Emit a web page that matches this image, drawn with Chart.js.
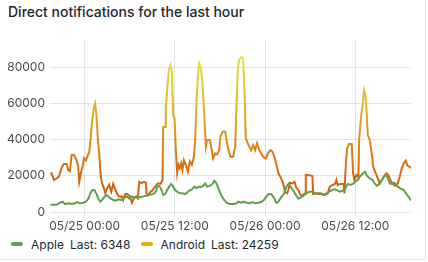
<!DOCTYPE html>
<html>
<head>
<meta charset="utf-8">
<script src="https://cdn.jsdelivr.net/npm/chart.js@4.4.1/dist/chart.umd.min.js"></script>
<style>
  html, body { margin: 0; padding: 0; background: #ffffff; }
  body { width: 428px; height: 262px; position: relative; overflow: hidden; font-family: Inter, "Noto Sans", sans-serif; }
  #panel { position: absolute; left: -1px; top: -1px; width: 427px; height: 261px; border-right: 1px solid rgba(36,41,46,0.12); border-bottom: 1px solid rgba(36,41,46,0.12); box-sizing: border-box; }
  #title { position: absolute; left: 8px; top: 3px; font-size: 14px; font-weight: 500; color: #24292e; white-space: nowrap; }
  #wrap { position: absolute; left: 0; top: 0; width: 428px; height: 235px; }
  #legend { position: absolute; left: 11px; top: 236px; height: 16px; display: flex; align-items: center; font-size: 12px; color: #24292e; white-space: nowrap; }
  .item { display: flex; align-items: center; margin-right: 10px; }
  .sw { width: 12px; height: 4px; border-radius: 2px; margin-right: 8px; }
  .lbl { margin-right: 6px; }
</style>
</head>
<body>
<div id="panel"></div>
<div id="title">Direct notifications for the last hour</div>
<div id="wrap"><canvas id="c"></canvas></div>
<div id="legend"></div>
<script>
// ---- data (hours relative to 05/25 00:00) ----
const seriesNames = ["Apple", "Android"];
const tickHours = [0, 12, 24, 36];
const tickLabels = ["05/25 00:00", "05/25 12:00", "05/26 00:00", "05/26 12:00"];
const yTicks = [0, 20000, 40000, 60000, 80000];

const appleHours = [-4.55,-4.39,-3.73,-3.28,-2.93,-2.62,-2.18,-1.73,-1.29,-0.98,-0.63,-0.18,0.17,0.53,0.79,1.06,1.32,1.59,1.85,2.12,2.39,2.65,2.92,3.18,3.45,3.80,4.16,4.51,4.87,5.22,5.58,5.93,6.29,6.64,6.99,7.35,7.70,8.06,8.41,8.77,9.12,9.48,9.65,9.92,10.18,10.45,10.72,10.98,11.25,11.51,11.78,12.04,12.31,12.66,13.02,13.37,13.64,13.90,14.26,14.61,14.88,15.15,15.41,15.77,16.03,16.30,16.65,17.01,17.27,17.54,17.80,18.16,18.51,18.86,19.31,19.75,20.19,20.46,20.81,21.17,21.52,21.97,22.32,22.67,23.12,23.47,23.83,24.09,24.45,24.80,25.15,25.51,25.77,26.13,26.48,26.84,27.10,27.37,27.72,28.08,28.43,28.79,29.14,29.50,29.94,30.29,30.65,31.09,31.45,31.80,32.15,32.51,32.86,33.22,33.57,33.93,34.28,34.63,34.99,35.34,35.70,35.96,36.32,36.58,37.03,37.29,37.56,37.91,38.27,38.62,38.89,39.24,39.60,39.95,40.22,40.57,40.84,41.19,41.63,41.99,42.43,42.79,43.14,43.40];
const appleValues = [4000,4000,4000,5100,5700,4400,4800,4400,4800,5500,4800,5100,5700,7500,10700,12100,12100,9900,7000,5700,7000,8500,9400,8500,7500,6600,6300,7000,6600,7800,8500,7500,8500,8100,8800,8100,8500,8800,9100,9600,9900,11200,14000,14400,12800,9400,9900,12100,14000,15500,14000,12100,11200,10300,10300,9900,10700,11800,12500,14000,13100,14000,13700,14400,15800,14000,14400,15500,17300,15800,12800,9400,7000,5100,4400,4400,4800,5700,5100,5800,5100,4800,5500,4800,5100,5500,6600,8100,9900,9900,8100,5100,5700,8100,9900,14000,15500,14000,12100,9400,7500,8100,9900,10500,11200,11200,10500,10300,10300,9400,10300,11200,12100,12500,12100,11200,11700,12800,15500,14900,15500,16700,17700,19500,21400,22300,19900,18600,17700,15500,14400,15800,18100,20400,19500,15800,15500,16200,14000,13100,12100,9900,8100,6348];

const androidHours = [-4.55,-4.39,-4.08,-3.73,-3.42,-3.06,-2.75,-2.40,-2.18,-1.95,-1.73,-1.42,-1.07,-0.85,-0.71,-0.49,-0.27,-0.09,0.17,0.35,0.62,0.79,0.97,1.25,1.41,1.59,1.77,1.94,2.12,2.30,2.56,2.74,3.01,3.27,3.54,3.80,4.07,4.34,4.60,4.96,5.13,5.40,5.66,6.02,6.29,6.55,6.82,7.08,7.26,7.57,7.88,8.15,8.24,8.50,8.77,9.03,9.39,9.74,10.10,10.36,10.45,10.72,10.80,10.98,11.20,11.42,11.60,11.78,11.96,12.13,12.31,12.49,12.66,12.84,13.02,13.20,13.46,13.73,13.99,14.26,14.53,14.70,14.88,15.06,15.23,15.45,15.65,15.85,16.12,16.29,16.65,16.91,17.09,17.36,17.62,17.89,18.07,18.33,18.69,18.86,19.13,19.40,19.75,20.02,20.19,20.37,20.55,20.90,21.08,21.26,21.43,21.61,21.88,22.14,22.41,22.67,22.94,23.21,23.47,23.74,24.09,24.36,24.71,24.98,25.24,25.51,25.77,26.13,26.40,26.66,26.93,27.10,27.28,27.64,27.90,28.17,28.43,28.70,29.05,29.32,29.41,29.76,30.29,30.38,30.74,31.09,31.53,31.98,32.33,32.60,32.95,33.31,33.48,33.66,34.01,34.46,34.55,34.72,34.90,35.17,35.52,35.70,35.88,36.14,36.41,36.50,36.76,36.94,37.16,37.34,37.47,37.65,37.91,38.18,38.36,38.62,38.89,39.24,39.51,39.77,40.13,40.39,40.66,40.93,41.28,41.63,41.90,42.17,42.43,42.70,42.96,43.23,43.40];
const androidValues = [21000,21400,17700,18500,19500,24300,26500,26500,23200,22500,31500,31500,28700,25000,16700,21500,25000,29800,28500,30500,33300,39700,49000,58000,60000,52600,39800,32500,21500,16000,13200,10500,13200,15000,11200,15500,12500,9900,8500,8500,6600,9900,9900,8800,5100,7500,8500,7500,16700,16000,16700,16200,10000,9500,11200,12000,14000,15800,15500,17700,47000,47000,58000,67300,78400,81200,78000,53500,52000,34200,21400,26000,24300,27000,23300,28700,26000,22300,28000,26000,30500,39800,60000,74700,82100,79500,72000,58000,36100,39800,39800,34200,29600,32400,31800,34200,41600,44400,44400,39800,34200,30500,30500,36100,58000,78400,84000,85800,84500,67400,40700,38900,36100,34200,36900,34200,38000,34200,32400,30500,29600,32400,34200,33300,30500,26000,21400,18600,15800,11200,10300,12100,16200,15800,16700,13100,12100,9400,8800,9900,20400,20400,19900,9900,10300,9900,9900,9400,10300,14000,14900,15500,17700,14900,15500,15500,10300,25000,35200,37600,37600,21400,17700,20400,19200,39800,52600,58000,67400,64500,58000,42500,39800,32400,25000,22300,19500,15800,17700,19500,21400,20400,17700,15800,14400,15800,19500,24100,26900,28400,25400,25000,24259];

// ---- styles ----
const appleColor = "#629e51";
const androidLegendColor = "#e0b400";
const androidStops = [[0, "#d2580b"], [0.23, "#d6660f"], [0.47, "#dc8d1d"], [0.7, "#dfb92b"], [1, "#e3e33c"]];

function pts(hs, vs) { return hs.map((h, i) => ({ x: h, y: vs[i] })); }

function androidGradient(context) {
  const chart = context.chart;
  const area = chart.chartArea;
  if (!area) return androidLegendColor;
  const y = chart.scales.y;
  const maxV = Math.max(...androidValues);
  const g = chart.ctx.createLinearGradient(0, y.getPixelForValue(0), 0, y.getPixelForValue(maxV));
  androidStops.forEach(s => g.addColorStop(s[0], s[1]));
  return g;
}

const gridColor = "rgba(36,41,46,0.12)";
const tickColor = "#464c54";

new Chart(document.getElementById("c"), {
  type: "line",
  data: {
    datasets: [
      { label: seriesNames[0], data: pts(appleHours, appleValues), borderColor: appleColor, borderWidth: 2, pointRadius: 0, tension: 0, fill: false },
      { label: seriesNames[1], data: pts(androidHours, androidValues), borderColor: androidGradient, borderWidth: 2, pointRadius: 0, tension: 0, fill: false }
    ]
  },
  options: {
    responsive: true,
    maintainAspectRatio: false,
    animation: false,
    parsing: false,
    layout: { padding: { top: 40, right: 17, left: 0, bottom: 0 } },
    plugins: { legend: { display: false }, title: { display: false }, tooltip: { enabled: false } },
    scales: {
      x: {
        type: "linear",
        min: -4.6,
        max: 43.4,
        afterBuildTicks: axis => { axis.ticks = tickHours.map(v => ({ value: v })); },
        afterFit: axis => { axis.height = 23; },
        ticks: {
          callback: (v) => tickLabels[tickHours.indexOf(v)],
          color: tickColor,
          font: { family: "Inter", size: 12 },
          padding: 3,
          maxRotation: 0,
          autoSkip: false
        },
        grid: { color: gridColor, drawTicks: true, tickLength: 4, tickColor: gridColor },
        border: { display: false }
      },
      y: {
        min: 0,
        max: 95000,
        afterBuildTicks: axis => { axis.ticks = yTicks.map(v => ({ value: v })); },
        afterFit: axis => { axis.width = 50; },
        ticks: {
          callback: (v) => String(v),
          color: tickColor,
          font: { family: "Inter", size: 12 },
          padding: 5
        },
        grid: { color: gridColor, drawTicks: false },
        border: { display: false }
      }
    }
  }
});

// legend (HTML) with last values computed from data
const legend = document.getElementById("legend");
[[seriesNames[0], appleColor, appleValues], [seriesNames[1], androidLegendColor, androidValues]].forEach(([name, col, vals]) => {
  const it = document.createElement("div");
  it.className = "item";
  it.innerHTML = '<div class="sw" style="background:' + col + '"></div><span class="lbl">' + name + '</span><span>Last: ' + vals[vals.length - 1] + '</span>';
  legend.appendChild(it);
});
</script>
</body>
</html>
